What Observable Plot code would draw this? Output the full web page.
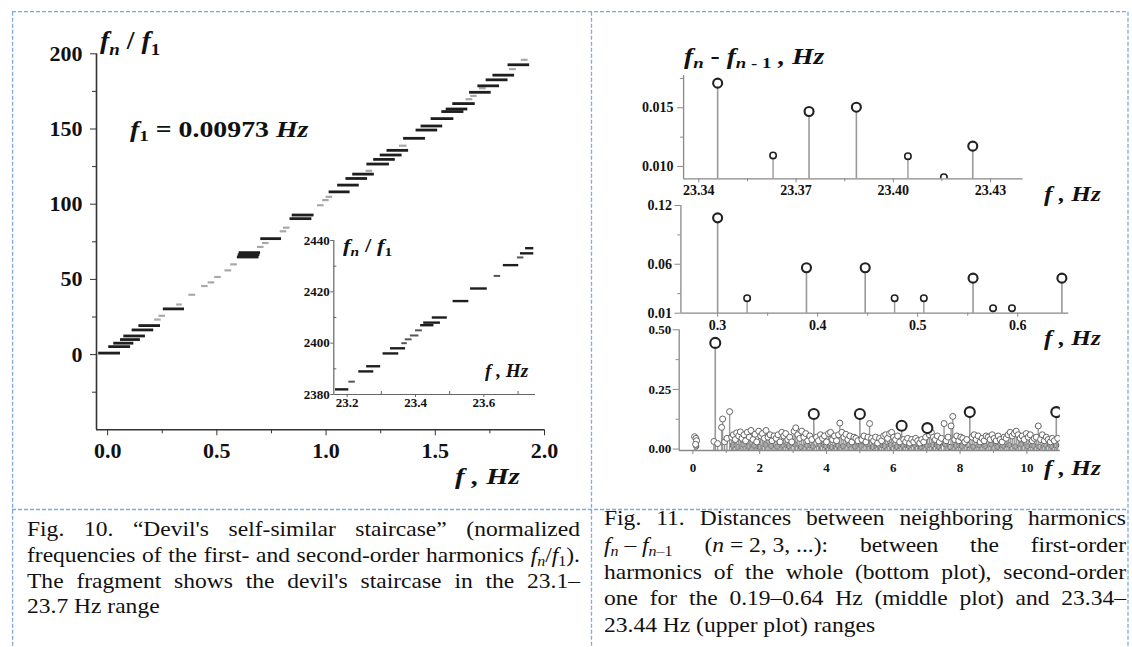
<!DOCTYPE html>
<html><head><meta charset="utf-8">
<script src="https://cdn.jsdelivr.net/npm/d3@7"></script>
<script src="https://cdn.jsdelivr.net/npm/@observablehq/plot@0.6"></script>
<style>
html,body{margin:0;padding:0;background:#fff;}
#page{position:relative;width:1132px;height:647px;overflow:hidden;background:#fff;}
.lbl{position:absolute;font-family:"Liberation Serif","Times New Roman",serif;font-weight:bold;font-style:italic;white-space:nowrap;line-height:1;color:#111;transform-origin:0 0;}
.lbl sub,.cap sub{font-size:0.68em;vertical-align:baseline;position:relative;top:0.3em;line-height:0;}
.up{font-style:normal;}
.cap{position:absolute;font-family:"Liberation Serif","Times New Roman",serif;color:#111;white-space:nowrap;line-height:1;transform-origin:0 0;}
</style></head>
<body><div id="page"></div>
<script>
// ---------------- data ----------------
// Fig. 10 main staircase: [f1 (Hz), f2 (Hz), fn/f1]
const mainXTicks = [0, 0.5, 1, 1.5, 2];
const mainXMinor = [0.25, 0.75, 1.25, 1.75];
const mainYTicks = [0, 50, 100, 150, 200];
const mainYMinor = [-25, 25, 75, 125, 175];
const darkSteps = [
  [-0.041,0.059,1],[0.005,0.105,5.3],[0.028,0.12,7.6],[0.059,0.15,10],[0.074,0.173,12.4],
  [0.112,0.211,16.4],[0.143,0.242,19.3],[0.255,0.352,30.4],[0.594,0.693,64.9],[0.598,0.697,66.4],
  [0.602,0.70,67.8],[0.701,0.796,77.1],[0.835,0.935,90.4],[0.845,0.945,92.8],[1.014,1.11,108.2],
  [1.053,1.152,112.7],[1.091,1.19,117.1],[1.122,1.221,120],[1.187,1.29,126.7],[1.218,1.317,129.8],
  [1.248,1.348,132.7],[1.279,1.378,135.8],[1.355,1.455,143.8],[1.412,1.511,149.3],[1.435,1.534,152],
  [1.481,1.585,156.9],[1.53,1.631,161.6],[1.55,1.649,163.3],[1.58,1.683,166.9],[1.657,1.756,174.4],
  [1.695,1.794,178.7],[1.733,1.833,182.7],[1.764,1.863,185.8],[1.833,1.932,192.7]
];
const lightSteps = [
  [0.215,0.245,23.3],[0.235,0.265,25.8],[0.316,0.342,33.3],[0.372,0.403,39.8],[0.43,0.46,45.6],
  [0.46,0.49,48],[0.49,0.52,51.6],[0.537,0.568,56],[0.563,0.594,60],[0.686,0.716,71.6],
  [0.709,0.739,74.2],[0.79,0.82,82],[0.805,0.835,84.4],[0.961,0.991,99.3],[0.984,1.014,102.7],
  [1.0,1.03,104.9],[1.183,1.213,122.2],[1.336,1.371,138.9],[1.641,1.672,169.8],[1.662,1.692,172],
  [1.702,1.733,177.1],[1.84,1.871,189.8],[1.894,1.925,196]
];
// Fig. 10 inset (23.1-23.7 Hz)
const insetXTicks = [23.2, 23.4, 23.6];
const insetXMinor = [23.3, 23.5, 23.7];
const insetYTicks = [2380, 2400, 2420, 2440];
const insetYMinor = [2390, 2410, 2430];
const insetSteps = [
  [23.166,23.205,2382],[23.234,23.278,2389],[23.257,23.298,2391],[23.305,23.351,2396],
  [23.327,23.371,2398],[23.415,23.454,2407],[23.424,23.473,2408],[23.449,23.493,2410],
  [23.51,23.556,2416.4],[23.561,23.61,2421.3],[23.657,23.702,2430.4],[23.707,23.746,2435],
  [23.722,23.746,2437]
];
const insetShort = [
  [23.205,23.224,2385],[23.36,23.376,2400],[23.37,23.39,2401.5],[23.385,23.41,2403],
  [23.40,23.42,2405],[23.63,23.649,2426.2],[23.698,23.717,2433.4]
];
// Fig. 11 upper plot (23.34-23.44 Hz): [f, fn - fn-1]
const topXTicks = [23.34, 23.37, 23.40, 23.43];
const topXMinor = [23.355, 23.385, 23.415];
const topYTicks = [0.010, 0.015];
const topYMinor = [0.0125, 0.0175];
const topBig = [[23.3458,0.0171],[23.374,0.01468],[23.3886,0.01505],[23.4245,0.01173]];
const topSmall = [[23.3629,0.01094],[23.4045,0.01088],[23.4156,0.00909]];
// Fig. 11 middle plot (0.19-0.64 Hz)
const midXTicks = [0.3, 0.4, 0.5, 0.6];
const midXMinor = [0.35, 0.45, 0.55];
const midYTicks = [0.01, 0.06, 0.12];
const midYMinor = [0.03, 0.09];
const midBig = [[0.300,0.1074],[0.3888,0.0564],[0.4475,0.0564],[0.5553,0.0458],[0.6441,0.0458]];
const midSmall = [[0.3295,0.0253],[0.4769,0.0253],[0.5061,0.0253],[0.5753,0.0151],[0.5942,0.0151]];
// Fig. 11 bottom plot (whole range)
const botXTicks = [0, 2, 4, 6, 8, 10];
const botXMinor = [1, 3, 5, 7, 9];
const botYTicks = [0, 0.25, 0.5];
const botYMinor = [0.125, 0.375];
const botBig = [[0.67,0.445],[3.62,0.147],[5.0,0.147],[6.25,0.098],[7.02,0.088],[8.29,0.155],[10.88,0.155]];
const botPts = [
  [0.05,0.052],[0.09,0.045],[0.11,0.035],[0.08,0.02],[0.63,0.032],[0.74,0.023],[0.86,0.091],[0.89,0.126],[0.95,0.03],[1.02,0.045],[1.10,0.157],
  [1.16,0.05],[1.21,0.06],[1.27,0.04],[1.31,0.068],[1.37,0.055],[1.42,0.072],[1.47,0.045],[1.53,0.06],[1.58,0.035],[1.63,0.07],[1.69,0.05],
  [1.74,0.078],[1.80,0.04],[1.86,0.062],[1.91,0.03],[1.97,0.075],[2.03,0.055],[2.08,0.065],[2.14,0.045],[2.19,0.078],[2.25,0.05],[2.31,0.06],
  [2.37,0.035],[2.43,0.055],[2.49,0.045],[2.55,0.06],[2.61,0.03],[2.66,0.07],[2.72,0.055],[2.78,0.065],[2.84,0.04],[2.90,0.05],[2.96,0.03],
  [3.03,0.075],[3.08,0.089],[3.14,0.06],[3.20,0.045],[3.26,0.075],[3.32,0.05],[3.38,0.065],[3.44,0.035],[3.50,0.055],[3.56,0.04],
  [3.70,0.05],[3.76,0.035],[3.82,0.06],[3.88,0.045],[3.94,0.055],[4.00,0.03],[4.06,0.065],[4.12,0.07],[4.18,0.04],[4.24,0.055],[4.30,0.035],
  [4.36,0.06],[4.40,0.109],[4.46,0.07],[4.52,0.05],[4.58,0.062],[4.64,0.04],[4.70,0.055],[4.76,0.03],[4.82,0.05],[4.88,0.045],[4.94,0.035],
  [5.06,0.04],[5.12,0.055],[5.18,0.03],[5.24,0.05],[5.29,0.107],[5.35,0.045],[5.41,0.035],[5.47,0.05],[5.53,0.025],[5.59,0.045],[5.65,0.035],
  [5.71,0.055],[5.77,0.06],[5.83,0.045],[5.89,0.065],[5.95,0.07],[6.01,0.05],[6.07,0.04],[6.13,0.055],[6.19,0.03],
  [6.31,0.04],[6.37,0.03],[6.43,0.045],[6.49,0.025],[6.55,0.04],[6.61,0.03],[6.67,0.045],[6.73,0.035],[6.79,0.025],[6.85,0.04],[6.91,0.03],[6.97,0.05],
  [7.08,0.06],[7.14,0.07],[7.20,0.05],[7.26,0.04],[7.32,0.055],[7.38,0.03],[7.44,0.045],[7.52,0.107],[7.58,0.035],[7.64,0.05],[7.73,0.097],
  [7.78,0.137],[7.84,0.04],[7.90,0.055],[7.96,0.035],[8.02,0.05],[8.08,0.045],[8.14,0.03],[8.20,0.04],
  [8.36,0.05],[8.42,0.06],[8.48,0.04],[8.54,0.055],[8.60,0.03],[8.66,0.045],[8.72,0.035],[8.78,0.055],[8.84,0.05],[8.90,0.04],[8.96,0.06],
  [9.02,0.045],[9.08,0.035],[9.14,0.055],[9.20,0.04],[9.26,0.03],[9.32,0.05],[9.38,0.045],[9.44,0.06],[9.50,0.07],[9.56,0.055],[9.62,0.065],
  [9.68,0.075],[9.74,0.06],[9.80,0.045],[9.86,0.055],[9.92,0.04],[9.98,0.065],[10.04,0.05],[10.10,0.06],[10.16,0.035],[10.22,0.045],
  [10.28,0.05],[10.34,0.097],[10.41,0.04],[10.46,0.06],[10.52,0.035],[10.58,0.05],[10.64,0.04],[10.70,0.03],[10.76,0.045],[10.82,0.035],[10.92,0.045]
];
const botLow = [
  [0.10,0.012],[1.19,0.016],[1.34,0.009],[1.50,0.019],[1.66,0.011],[1.83,0.014],[2.00,0.008],[2.17,0.018],[2.34,0.013],[2.52,0.01],
  [2.69,0.017],[2.87,0.012],[3.05,0.02],[3.23,0.009],[3.41,0.015],[3.59,0.011],[3.79,0.019],[3.97,0.013],[4.15,0.008],[4.33,0.016],
  [4.49,0.012],[4.67,0.018],[4.85,0.01],[5.03,0.014],[5.21,0.02],[5.38,0.009],[5.56,0.015],[5.74,0.012],[5.92,0.018],[6.10,0.01],
  [6.28,0.016],[6.46,0.013],[6.64,0.019],[6.82,0.008],[7.00,0.014],[7.17,0.017],[7.35,0.011],[7.55,0.02],[7.70,0.009],[7.87,0.015],
  [8.05,0.012],[8.23,0.018],[8.39,0.01],[8.57,0.016],[8.75,0.013],[8.93,0.019],[9.11,0.009],[9.29,0.014],[9.47,0.017],[9.65,0.011],
  [9.83,0.02],[10.01,0.012],[10.19,0.015],[10.37,0.01],[10.55,0.018],[10.73,0.013],[10.88,0.016]
];

// ---------------- drawing ----------------
const page = document.getElementById("page");
const SERIF = "Liberation Serif, Times New Roman, serif";
function place(el, left, top) {
  el.style.position = "absolute"; el.style.left = left + "px"; el.style.top = top + "px";
  page.appendChild(el);
}
function baseStyle(size) {
  return {fontFamily: SERIF, fontWeight: "bold", fontSize: size + "px", color: "#111", background: "transparent", overflow: "visible"};
}
const noText = () => "";

// Fig. 10 main
const xd = [-0.051, 2.0], yd = [-50, 200];
place(Plot.plot({
  width: 540, height: 470, marginLeft: 76, marginRight: 16, marginTop: 33.3, marginBottom: 60.7,
  x: {domain: xd}, y: {domain: yd},
  style: baseStyle(22),
  marks: [
    Plot.ruleX([xd[0]], {y1: yd[0], y2: yd[1], stroke: "#333", strokeWidth: 1.6}),
    Plot.ruleY([yd[0]], {x1: xd[0], x2: xd[1], stroke: "#333", strokeWidth: 1.6}),
    Plot.axisY({ticks: mainYTicks, tickSize: 6, tickPadding: 8, tickFormat: d3.format("d"), label: null, fontSize: 22, fontWeight: "bold", stroke: "#333"}),
    Plot.axisY({ticks: mainYMinor, tickSize: 4, tickFormat: noText, label: null, stroke: "#333"}),
    Plot.axisX({ticks: mainXTicks, tickSize: 6, tickPadding: 7, tickFormat: d3.format(".1f"), label: null, fontSize: 22, fontWeight: "bold", stroke: "#333"}),
    Plot.axisX({ticks: mainXMinor, tickSize: 4, tickFormat: noText, label: null, stroke: "#333"}),
    Plot.ruleY(lightSteps, {x1: d => d[0], x2: d => d[1], y: d => d[2], stroke: "#a8a8a8", strokeWidth: 2.2}),
    Plot.ruleY(darkSteps, {x1: d => d[0], x2: d => d[1], y: d => d[2], stroke: "#1e1e1e", strokeWidth: 2.8})
  ]
}), 20, 20);

// Fig. 10 inset
const ixd = [23.161, 23.751], iyd = [2380, 2440];
place(Plot.plot({
  width: 260, height: 200, marginLeft: 43.3, marginRight: 15, marginTop: 20, marginBottom: 26,
  x: {domain: ixd}, y: {domain: iyd},
  style: baseStyle(13),
  marks: [
    Plot.ruleX([ixd[0]], {y1: iyd[0], y2: iyd[1], stroke: "#666", strokeWidth: 1.2}),
    Plot.ruleY([iyd[0]], {x1: ixd[0], x2: ixd[1], stroke: "#666", strokeWidth: 1.2}),
    Plot.axisY({ticks: insetYTicks, tickSize: 3, tickPadding: 1, tickFormat: d3.format("d"), label: null, fontSize: 13, fontWeight: "bold", stroke: "#666"}),
    Plot.axisY({ticks: insetYMinor, tickSize: -3, tickFormat: noText, label: null, stroke: "#666"}),
    Plot.axisX({ticks: insetXTicks, tickSize: 3, tickPadding: 0, tickFormat: d3.format(".1f"), label: null, fontSize: 13, fontWeight: "bold", stroke: "#666"}),
    Plot.axisX({ticks: insetXMinor, tickSize: -3, tickFormat: noText, label: null, stroke: "#666"}),
    Plot.ruleY(insetShort, {x1: d => d[0], x2: d => d[1], y: d => d[2], stroke: "#555", strokeWidth: 2}),
    Plot.ruleY(insetSteps, {x1: d => d[0], x2: d => d[1], y: d => d[2], stroke: "#1e1e1e", strokeWidth: 2.4})
  ]
}), 290, 220);

// stem plot helper
function stemPlot(o) {
  const yMin = o.yd[0];
  return Plot.plot({
    width: o.w, height: o.h, marginLeft: o.ml, marginRight: o.mr, marginTop: o.mt, marginBottom: o.mb,
    x: {domain: o.xd}, y: {domain: o.yd},
    style: baseStyle(o.fs),
    marks: [
      Plot.ruleX([o.xd[0]], {y1: o.yd[0], y2: o.yd[1], stroke: "#888", strokeWidth: 1.3}),
      Plot.axisY({ticks: o.yt, tickSize: 6, tickPadding: o.yp, tickFormat: d3.format(o.yf), label: null, fontSize: o.fs, fontWeight: "bold", stroke: "#888"}),
      Plot.axisY({ticks: o.ym, tickSize: 3, tickFormat: noText, label: null, stroke: "#888"}),
      Plot.axisX({ticks: o.xt, tickSize: 4, tickPadding: o.xp, tickFormat: d3.format(o.xf), label: null, fontSize: o.fs, fontWeight: "bold", stroke: "#888"}),
      Plot.axisX({ticks: o.xm, tickSize: 3, tickFormat: noText, label: null, stroke: "#888"}),
      ...(o.low ? [
        Plot.ruleX(o.low, {x: d => d[0], y1: yMin, y2: d => d[1], stroke: "#777", strokeWidth: 1.2}),
        Plot.dot(o.low, {x: d => d[0], y: d => d[1], r: 2.6, fill: "#ccc", stroke: "#444", strokeWidth: 1})
      ] : []),
      Plot.ruleX(o.small, {x: d => d[0], y1: yMin, y2: d => d[1], stroke: "#999", strokeWidth: 1.4}),
      Plot.ruleX(o.big, {x: d => d[0], y1: yMin, y2: d => d[1], stroke: "#999", strokeWidth: 1.6}),
      Plot.ruleY([yMin], {x1: o.xd[0], x2: o.xd[1], stroke: "#888", strokeWidth: 1.3}),
      Plot.dot(o.small, {x: d => d[0], y: d => d[1], r: o.rs, fill: "white", stroke: o.sc || "#222", strokeWidth: o.sw || 1.6, clip: true}),
      Plot.dot(o.big, {x: d => d[0], y: d => d[1], r: o.rb, fill: "white", stroke: "#222", strokeWidth: 2.1, clip: true})
    ]
  });
}

// Fig. 11 upper
place(stemPlot({w: 440, h: 165, ml: 83.1, mr: 17.5, mt: 35, mb: 26.7,
  xd: [23.3353, 23.44], yd: [0.00895, 0.01775], xt: topXTicks, xm: topXMinor, yt: topYTicks, ym: topYMinor,
  xf: ".2f", yf: ".3f", fs: 14, yp: 4, xp: 2, big: topBig, small: topSmall, rb: 4.5, rs: 3.2}), 600, 40);

// Fig. 11 middle
place(stemPlot({w: 480, h: 150, ml: 80.4, mr: 11.7, mt: 15, mb: 27.3,
  xd: [0.2633, 0.651], yd: [0.01, 0.12], xt: midXTicks, xm: midXMinor, yt: midYTicks, ym: midYMinor,
  xf: ".1f", yf: ".2f", fs: 14, yp: 3, xp: 3, big: midBig, small: midSmall, rb: 4.5, rs: 3.2}), 600, 190);

// Fig. 11 bottom
place(stemPlot({w: 470, h: 180, ml: 78.7, mr: 10.2, mt: 19.3, mb: 40,
  xd: [-0.41, 11.0], yd: [-0.006, 0.5], xt: botXTicks, xm: botXMinor, yt: botYTicks, ym: botYMinor,
  xf: "d", yf: ".2f", fs: 13, yp: 2, xp: 8, big: botBig, small: botPts, low: botLow, rb: 5, rs: 3, sc: "#666", sw: 1}), 600, 310);

// ---------------- text overlays ----------------
function label(html, left, baseline, size, sx) {
  const d = document.createElement("div");
  d.className = "lbl"; d.innerHTML = html;
  d.style.left = left + "px"; d.style.top = (baseline - 0.8375 * size) + "px"; d.style.fontSize = size + "px";
  if (sx) d.style.transform = "scaleX(" + sx + ")";
  page.appendChild(d);
}
label('f<sub>n</sub> <span class="up">/</span> f<sub class="up">1</sub>', 100, 50, 26, 1.07);
label('f<sub class="up">1</sub><span class="up"> = 0.00973 </span>Hz', 130, 137, 23, 1.21);
label('f , Hz', 455, 484, 24, 1.2);
label('f<sub>n</sub> <span class="up">/</span> f<sub class="up">1</sub>', 343, 252, 19, 1.2);
label('f , Hz', 485, 377, 18, 1.07);
label('f<sub>n</sub> <span class="up">-</span> f<sub>n <span class="up">- 1</span></sub> , Hz', 684, 64, 23, 1.2);
label('f , Hz', 1044, 202, 21, 1.2);
label('f , Hz', 1044, 346, 21, 1.2);
label('f , Hz', 1044, 476, 21, 1.2);

// captions (each line justified to the column width; only normal spaces stretch)
function capLine(html, left, baseline, width, size, sx, last) {
  const d = document.createElement("div");
  d.className = "cap";
  const s = document.createElement("span");
  s.innerHTML = html; d.appendChild(s);
  d.style.left = left + "px"; d.style.top = (baseline - 0.8375 * size) + "px";
  d.style.fontSize = size + "px"; d.style.transform = "scaleX(" + sx + ")";
  page.appendChild(d);
  if (!last) {
    const natural = s.getBoundingClientRect().width / sx;
    const gaps = (s.textContent.match(/[ \u00a0]/g) || []).length;
    if (gaps) d.style.wordSpacing = ((width / sx - natural) / gaps) + "px";
  }
}
const CS = 21, CX = 1.12;
capLine('Fig. 10. “Devil\'s self-similar staircase” (normalized', 27, 536.7, 553, CS, CX);
capLine('frequencies of the first- and second-order harmonics <i>f<sub>n</sub></i>/<i>f</i><sub>1</sub>).', 27, 562.5, 553, CS, CX);
capLine('The fragment shows the devil\'s staircase in the 23.1–', 27, 588.5, 553, CS, CX);
capLine('23.7 Hz range', 27, 614, 553, CS, CX, true);
capLine('Fig. 11. Distances between neighboring harmonics', 604, 526, 522, CS, CX);
capLine('<i>f<sub>n</sub></i>\u2005–\u2005<i>f<sub>n</sub></i><sub>–1</sub> (<i>n</i>\u2005=\u20052,\u20053,\u2005...): between the first-order', 604, 552.7, 522, CS, CX);
capLine('harmonics of the whole (bottom plot), second-order', 604, 579.3, 522, CS, CX);
capLine('one for the 0.19–0.64 Hz (middle plot) and 23.34–', 604, 606, 522, CS, CX);
capLine('23.44 Hz (upper plot) ranges', 604, 632.7, 522, CS, CX, true);

// dashed frame
const ns = "http://www.w3.org/2000/svg";
const fr = document.createElementNS(ns, "svg");
fr.setAttribute("width", 1132); fr.setAttribute("height", 647);
fr.style.position = "absolute"; fr.style.left = "0px"; fr.style.top = "0px"; fr.style.pointerEvents = "none";
[[12, 11.7, 1128, 11.7], [12.6, 11.7, 12.6, 647], [591.5, 11.7, 591.5, 647], [1128, 11.7, 1128, 647], [12, 509.5, 1128, 509.5]]
  .forEach(([x1, y1, x2, y2]) => {
    const l = document.createElementNS(ns, "line");
    l.setAttribute("x1", x1); l.setAttribute("y1", y1); l.setAttribute("x2", x2); l.setAttribute("y2", y2);
    l.setAttribute("stroke", "#7da9e3"); l.setAttribute("stroke-width", 1.3); l.setAttribute("stroke-dasharray", "4 2");
    fr.appendChild(l);
  });
page.appendChild(fr);
</script>
</body></html>
